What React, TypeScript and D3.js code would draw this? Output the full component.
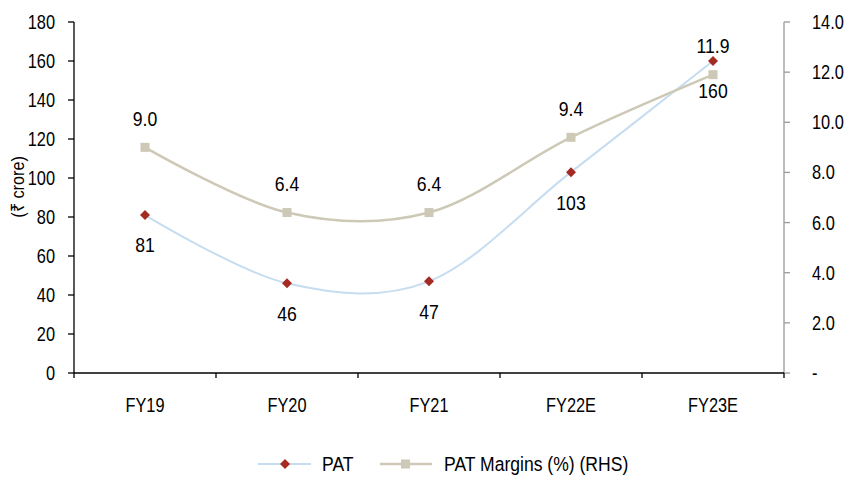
import React from "react";
import * as d3 from "d3";

const categories = ["FY19", "FY20", "FY21", "FY22E", "FY23E"];
const patValues = [81, 46, 47, 103, 160];
const marginValues = [9.0, 6.4, 6.4, 9.4, 11.9];
const leftTicks = [0, 20, 40, 60, 80, 100, 120, 140, 160, 180];
const rightTicks = [0, 2, 4, 6, 8, 10, 12, 14];

const W = 848;
const H = 477;
const FONT = "'Liberation Sans', Arial, sans-serif";

type TProps = {
  x: number;
  y: number;
  size: number;
  sx?: number;
  anchor?: "start" | "middle" | "end";
  children: React.ReactNode;
  rotate?: number;
};

function T({ x, y, size, sx = 0.84, anchor = "middle", children, rotate = 0 }: TProps) {
  return (
    <g transform={`translate(${x},${y}) rotate(${rotate}) scale(${sx},1)`}>
      <text x={0} y={0} dy="0.36em" textAnchor={anchor} fontSize={size} fill="#000">
        {children}
      </text>
    </g>
  );
}

export default function App() {
  const left = 74;
  const right = 784;
  const top = 22;
  const bottom = 373;

  const x = d3.scaleBand<string>().domain(categories).range([left, right]);
  const cx = (c: string) => (x(c) as number) + x.bandwidth() / 2;
  const yL = d3.scaleLinear().domain([0, 180]).range([bottom, top]);
  const yR = d3.scaleLinear().domain([0, 14]).range([bottom, top]);

  const patLine = d3
    .line<number>()
    .x((_, i) => cx(categories[i]))
    .y((d) => yL(d))
    .curve(d3.curveCatmullRom.alpha(0));
  const marginLine = d3
    .line<number>()
    .x((_, i) => cx(categories[i]))
    .y((d) => yR(d))
    .curve(d3.curveCatmullRom.alpha(0));

  const patColor = "#c6ddf1";
  const markerRed = "#a52a22";
  const marginColor = "#cdc9b6";
  const fs = 19.5;
  const lfs = 20.5;

  const boundaries = [...categories.map((c) => x(c) as number), right];

  return (
    <svg width={W} height={H} style={{ position: "absolute", left: 0, top: 0 }} fontFamily={FONT}>
      <rect x={0} y={0} width={W} height={H} fill="#fff" />
      {/* left axis */}
      <line x1={left} x2={left} y1={top} y2={bottom} stroke="#000" strokeWidth={1.3} />
      {leftTicks.map((t) => (
        <g key={"l" + t}>
          <line x1={left - 6} x2={left} y1={yL(t)} y2={yL(t)} stroke="#000" strokeWidth={1.3} />
          <T x={55} y={yL(t)} size={fs} anchor="end">
            {t}
          </T>
        </g>
      ))}
      <T x={17} y={187} size={18.5} anchor="middle" rotate={-90} sx={0.88}>
        (₹ crore)
      </T>
      {/* right axis */}
      <line x1={right} x2={right} y1={top} y2={bottom} stroke="#9a9a9a" strokeWidth={1.3} />
      {rightTicks.map((t) => (
        <g key={"r" + t}>
          <line x1={right} x2={right + 6} y1={yR(t)} y2={yR(t)} stroke="#9a9a9a" strokeWidth={1.3} />
          <T x={812} y={yR(t)} size={fs} anchor="start">
            {t === 0 ? "-" : t.toFixed(1)}
          </T>
        </g>
      ))}
      {/* x axis */}
      <line x1={left} x2={right} y1={bottom} y2={bottom} stroke="#000" strokeWidth={1.6} />
      {boundaries.map((b, i) => (
        <line key={"b" + i} x1={b} x2={b} y1={bottom} y2={bottom + 5} stroke="#000" strokeWidth={1.3} />
      ))}
      {categories.map((c) => (
        <T key={c} x={cx(c)} y={bottom + 32} size={fs} anchor="middle">
          {c}
        </T>
      ))}
      {/* lines */}
      <path d={patLine(patValues) || ""} fill="none" stroke={patColor} strokeWidth={2} />
      <path d={marginLine(marginValues) || ""} fill="none" stroke={marginColor} strokeWidth={2.5} />
      {marginValues.map((v, i) => (
        <rect key={"m" + i} x={cx(categories[i]) - 4.5} y={yR(v) - 4.5} width={9} height={9} fill={marginColor} />
      ))}
      {patValues.map((v, i) => (
        <path
          key={"p" + i}
          d="M0,-5 L5,0 L0,5 L-5,0 Z"
          transform={`translate(${cx(categories[i])},${yL(v)})`}
          fill={markerRed}
        />
      ))}
      {/* labels */}
      {patValues.map((v, i) => (
        <T key={"pl" + i} x={cx(categories[i])} y={yL(v) + 30} size={lfs} sx={0.86}>
          {v}
        </T>
      ))}
      {marginValues.map((v, i) => (
        <T key={"ml" + i} x={cx(categories[i])} y={yR(v) - 29} size={lfs} sx={0.86}>
          {v.toFixed(1)}
        </T>
      ))}
      {/* legend */}
      <line x1={258} x2={311} y1={464} y2={464} stroke={patColor} strokeWidth={2} />
      <path d="M0,-5 L5,0 L0,5 L-5,0 Z" transform="translate(285,464)" fill={markerRed} />
      <T x={322} y={464} size={fs} anchor="start" sx={0.9}>
        PAT
      </T>
      <line x1={380} x2={432} y1={464} y2={464} stroke={marginColor} strokeWidth={2.5} />
      <rect x={401} y={459.5} width={9} height={9} fill={marginColor} />
      <T x={444} y={464} size={fs} anchor="start" sx={0.9}>
        PAT Margins (%) (RHS)
      </T>
    </svg>
  );
}
